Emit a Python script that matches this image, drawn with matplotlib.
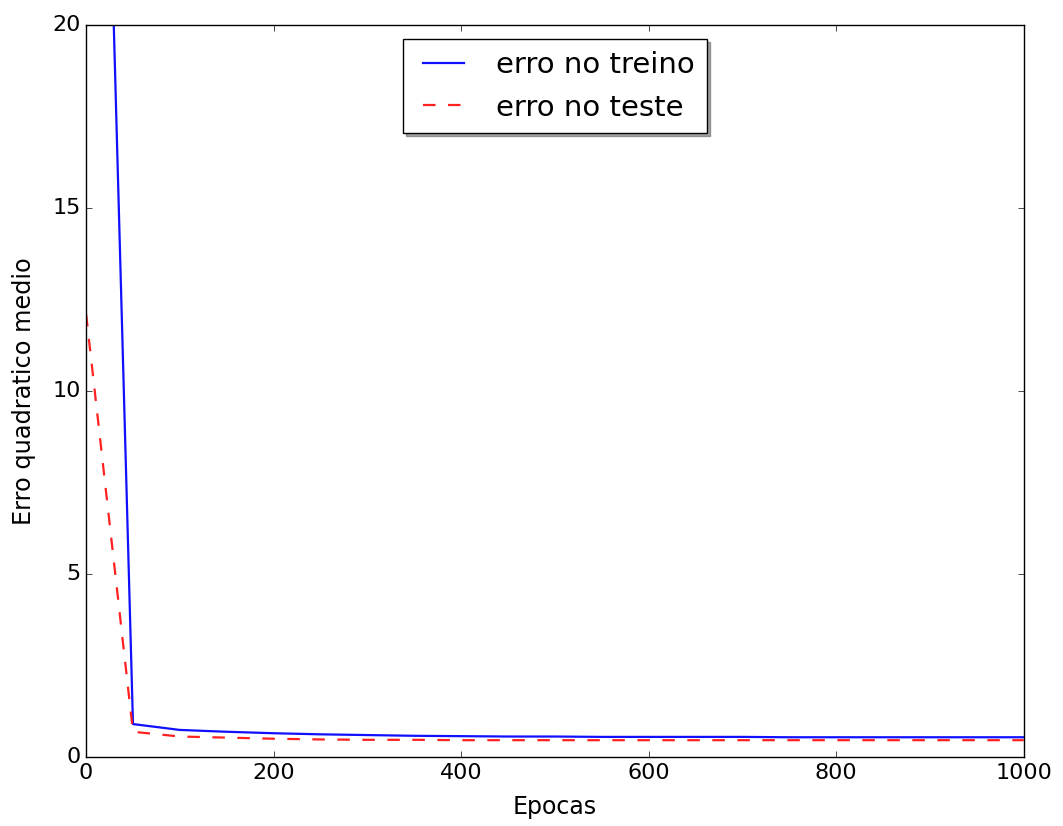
import matplotlib
matplotlib.use("Agg")
import matplotlib.pyplot as plt

# valores (a cada 50 epocas)
epocas = [0, 50, 100, 150, 200, 250, 300, 350, 400, 450, 500,
          550, 600, 650, 700, 750, 800, 850, 900, 950, 1000]
erro_treino = [47.5, 0.90, 0.74, 0.69, 0.65, 0.62, 0.60, 0.58, 0.57, 0.56, 0.56,
               0.55, 0.55, 0.55, 0.55, 0.54, 0.54, 0.54, 0.54, 0.54, 0.54]
erro_teste = [12.1, 0.69, 0.56, 0.53, 0.50, 0.48, 0.47, 0.47, 0.46, 0.46, 0.46,
              0.46, 0.46, 0.46, 0.46, 0.46, 0.46, 0.46, 0.46, 0.46, 0.46]

plt.style.use("classic")

fig = plt.figure(figsize=(10.63, 8.26), dpi=100, facecolor="white")
ax = fig.add_axes([0.081, 0.0835, 0.882, 0.8865])

ax.plot(epocas, erro_treino, "-", color="#1010ff", lw=1.6, label="erro no treino")
ax.plot(epocas, erro_teste, "--", color="#ff2020", lw=1.6, dashes=(9, 9),
        label="erro no teste")

ax.set_xlim(0, 1000)
ax.set_ylim(0, 20)
ax.set_xticks([0, 200, 400, 600, 800, 1000])
ax.set_yticks([0, 5, 10, 15, 20])
ax.tick_params(labelsize=16)
ax.set_xlabel("Epocas", fontsize=17, labelpad=9)
ax.set_ylabel("Erro quadratico medio", fontsize=17.3, labelpad=12)

ax.legend(loc="upper center", shadow=True, fontsize=21, handlelength=2.0)

fig.savefig("out.png", dpi=100, facecolor="white")
